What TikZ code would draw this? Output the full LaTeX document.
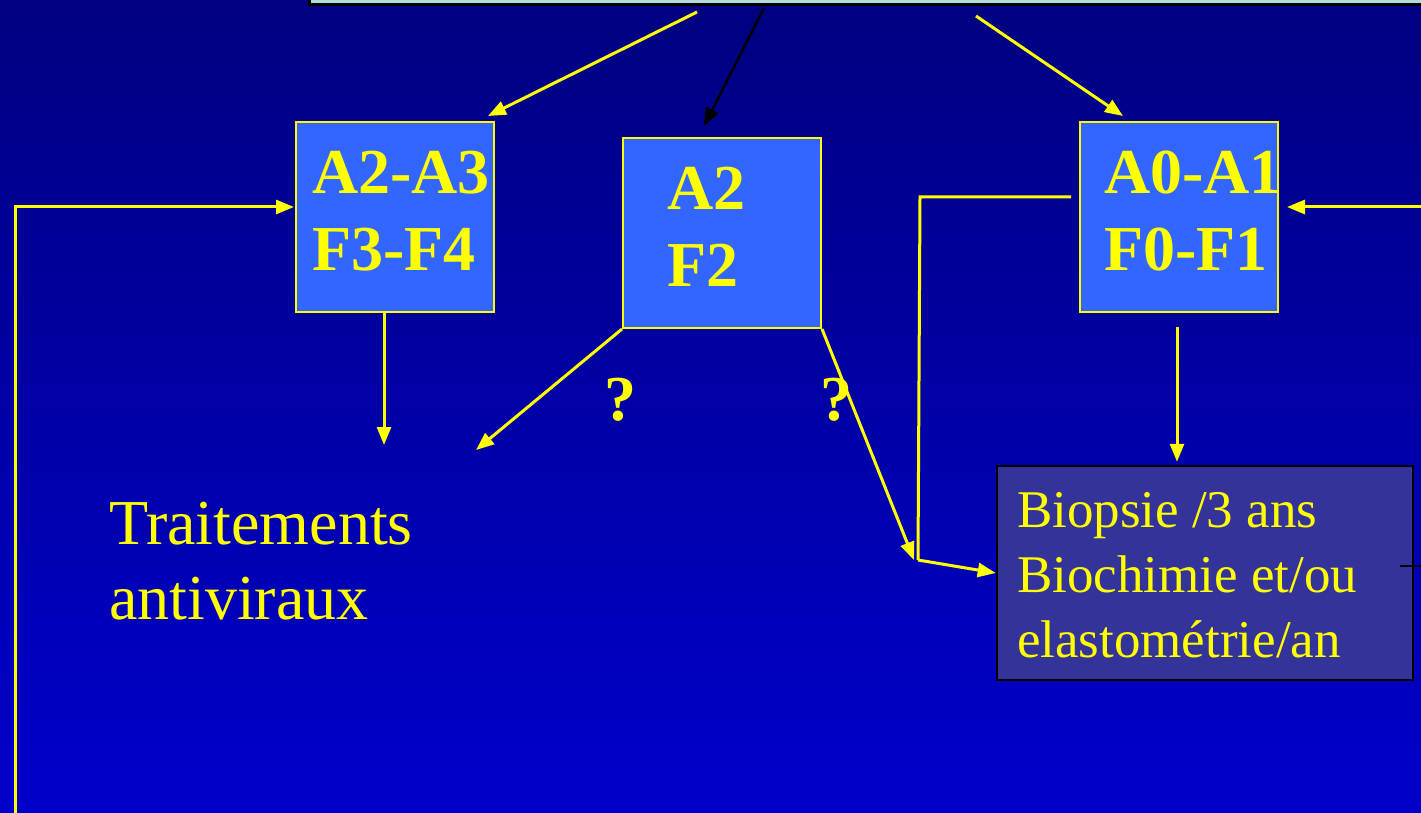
\documentclass[tikz,border=0pt]{standalone}
\usepackage{fontspec}
\setmainfont{Liberation Serif}
\usetikzlibrary{arrows.meta,calc}
\definecolor{bgtop}{RGB}{0,0,128}
\definecolor{bgbot}{RGB}{0,0,204}
\definecolor{boxblue}{RGB}{51,102,255}
\definecolor{biofill}{RGB}{51,51,153}
\definecolor{topfill}{RGB}{178,222,222}
\definecolor{yel}{RGB}{255,255,0}
\newcommand{\lline}[2]{\makebox[#1][l]{#2}}
\tikzset{
  gbox/.style={draw=yel, line width=2pt, fill=boxblue, minimum width=198pt, minimum height=190pt,
    inner sep=0pt, align=left, text=yel, font=\fontsize{64}{77}\selectfont\bfseries,
    text height=106pt, text depth=0pt},
  arr/.style={draw=yel, line width=3pt, -{Triangle[length=18pt,width=14pt]}},
  plainline/.style={draw=yel, line width=3pt},
  blackarr/.style={draw=black, line width=2.5pt, -{Triangle[length=18pt,width=14pt]}},
  qmark/.style={text=yel, font=\fontsize{64}{77}\selectfont\bfseries, inner sep=0pt},
}
\begin{document}
\begin{tikzpicture}[x=1pt,y=-1pt]
\useasboundingbox (0,0) rectangle (1421,813);
\shade[top color=bgtop, bottom color=bgbot] (0,0) rectangle (1421,813);
% top box (partially visible)
\node[draw=black, line width=3pt, fill=topfill, minimum width=1140pt, minimum height=40pt, anchor=south west, inner sep=0pt] (top) at (308,6) {};
% boxes
\node[gbox] (A23) at (395,217) {\lline{166pt}{A2-A3}\\\lline{166pt}{F3-F4}};
\node[gbox] (A2) at (722,233) {\lline{110pt}{A2}\\\lline{110pt}{F2}};
\node[gbox] (A01) at (1179,217) {\lline{150pt}{A0-A1}\\\lline{150pt}{F0-F1}};
\node[draw=black, line width=2.5pt, fill=biofill, minimum width=416pt, minimum height=214pt, inner sep=0pt,
  align=left, text=yel, font=\fontsize{53}{65}\selectfont,
  text height=168pt, text depth=0pt] (bio) at (1205,573)
  {\lline{376pt}{Biopsie /3 ans}\\\lline{376pt}{Biochimie et/ou}\\\lline{376pt}{elastométrie/an}};
\node[anchor=north west, inner sep=0pt, align=left, text=yel, font=\fontsize{64}{75}\selectfont] (trait) at (109,502)
  {Traitements\\antiviraux};
\node[qmark] (q1) at (620,400) {?};
\node[qmark] (q2) at (836,400) {?};
% free ends
\coordinate (s1) at (697,12);
\coordinate (s2) at (764,8);
\coordinate (s3) at (976,16);
\coordinate (t1) at (384,445);
\coordinate (t2) at (476,450);
\coordinate (j) at (914,560);
\coordinate (r) at (1421,207);
\coordinate (lb) at (15,813);
\coordinate (rk) at (1400,566);
\coordinate (re) at (1421,566);
% connectors
\draw[arr] (s1) -- ($(A23.north east)+(-7,-5)$);
\draw[blackarr] (s2) -- ($(A2.north)+(-18,-11)$);
\draw[arr] (s3) -- ($(A01.north west)+(44,-5)$);
\draw[arr] ($(A23.south)+(-11,-2)$) -- (t1);
\draw[arr] (A2.south west) -- (t2);
\draw[arr] (A2.south east) -- (j);
\draw[plainline] ($(A01.west)+(-8,-20)$) -- (920,197) -- (918,560);
\draw[arr] (918,560) -- (bio.west);
\draw[arr] ($(A01.south)+(-2,14)$) -- ($(bio.north)+(-28,-3)$);
\draw[arr] (r) -- ($(A01.east)+(8,-10)$);
\draw[arr] (lb) -- (15,207) -- ($(A23.west)+(-1,-10)$);
\draw[draw=black, line width=2pt] (rk) -- (re);
\end{tikzpicture}
\end{document}
